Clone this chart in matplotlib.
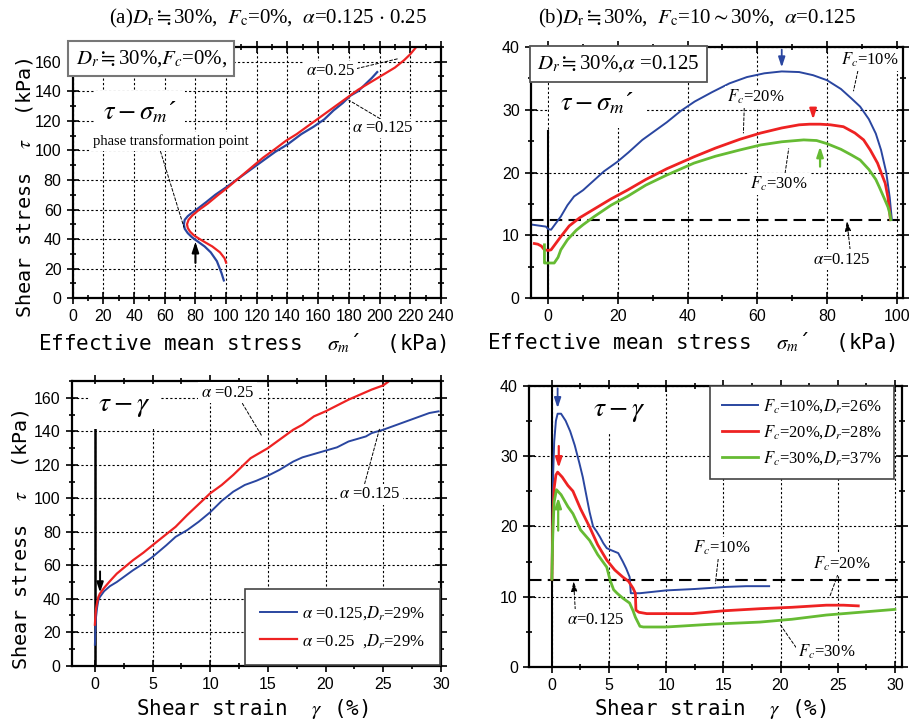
import matplotlib
matplotlib.use("Agg")
import matplotlib.pyplot as plt
from matplotlib.ticker import MultipleLocator

plt.rcParams['font.family'] = ['Liberation Serif', 'Noto Sans CJK JP', 'DejaVu Sans']
plt.rcParams['mathtext.fontset'] = 'stix'

BLUE = '#2a46a0'
RED = '#ee2222'
GREEN = '#66bb33'

# ---------------- data ----------------
# (a) tau - sigma_m'
a_blue_sig = [98.5, 97, 94, 90, 86, 82, 78, 75, 73, 72.5, 73, 75, 78, 82, 87, 93, 100, 108, 116, 124,
              132, 140, 149, 157, 164, 170, 176, 181, 186, 190, 195, 198.5]
a_blue_tau = [12, 17, 25, 31, 35, 38, 41, 44, 47, 50, 53, 55.5, 58, 61, 65, 70, 75, 81, 87, 93,
              99, 104, 111, 116, 121, 127, 132, 137, 140, 144, 149, 153]
a_red_sig = [100, 99, 96, 91, 86, 82, 79, 76.5, 75, 74.5, 75.5, 78, 82, 88, 95, 100, 108, 116, 124, 132,
             139, 146, 154, 162, 170, 178, 186, 194, 202, 210, 216, 220, 224]
a_red_tau = [24, 27, 31, 35, 38, 40.5, 42.5, 45, 47.5, 50, 53, 56, 59.5, 64, 70, 74, 81, 88, 95, 101,
             106.5, 111, 117, 123, 129, 135, 141, 146, 151, 156, 161, 165, 170]

# (b) tau - sigma_m'
b_blue_sig = [-4.5, -2, -0.7, 0, 0.8, 2, 3.6, 5.5, 7.4, 10, 13.2, 16, 19.8, 23, 27, 31, 34, 38, 42, 47,
              52, 57, 62, 67, 72, 76, 80, 84, 87, 89.5, 92, 94, 95.5, 97, 98, 98.6]
b_blue_tau = [11.7, 11.5, 11.4, 11, 10.9, 11.8, 13, 14.8, 16.2, 17.2, 18.8, 20.2, 21.7, 23.2, 25.2, 26.8,
              28, 29.8, 31.3, 32.8, 34.2, 35.2, 35.8, 36.1, 36, 35.5, 34.7, 33.3, 31.8, 30.5, 28.5, 26.2,
              23.6, 20, 16, 12.5]
b_red_sig = [-4, -3, -2, -1.1, 0, 0.8, 2, 3.6, 6, 9, 13.2, 18, 22.7, 28, 34, 41.8, 48, 55, 61, 67, 72,
             75, 78, 81, 84.7, 88, 90.5, 92.4, 94.5, 96, 96.7, 97.5, 97.9, 98.2]
b_red_tau = [8.7, 8.6, 8.3, 7.7, 7.6, 7.7, 8.6, 9.8, 11.5, 12.8, 14.2, 15.8, 17.2, 18.9, 20.6, 22.5, 23.9,
             25.3, 26.3, 27.1, 27.6, 27.7, 27.7, 27.6, 27.3, 26.3, 25.2, 23.6, 21.5, 19.3, 18.3, 16, 14, 12.5]
b_green_sig = [-1.1, -1.1, -0.7, 0, 1.7, 2.8, 3.6, 5.5, 8, 10, 13.2, 18, 22.7, 28, 34, 41.8, 48, 55, 61,
               67, 73.3, 77, 80, 84, 87, 89.5, 92, 94, 95, 96.5, 97.5, 98, 98.3]
b_green_tau = [8.5, 5.6, 5.6, 5.6, 5.6, 6.5, 7.7, 9.3, 10.8, 11.7, 13, 14.8, 16.2, 18, 19.6, 21.5, 22.6,
               23.6, 24.4, 24.9, 25.2, 25.1, 24.6, 23.7, 22.8, 22, 20.5, 18.9, 17.7, 15.8, 14.5, 13.5, 12.5]

# (a) tau - gamma
c_blue_gam = [0, 0.05, 0.1, 0.2, 0.3, 0.43, 0.8, 1.3, 1.9, 2.6, 3.3, 4.2, 5, 6.2, 7, 8, 9, 10, 11, 12,
              13, 14, 15, 16, 17.2, 18, 19, 20, 21, 22, 23, 23.5, 24, 25, 26, 27, 28, 29, 29.8]
c_blue_tau = [12.5, 22, 29, 35, 39, 41, 44.5, 47.5, 50, 53.5, 57, 61, 65, 72, 77, 81, 86, 91.7, 98.5, 104,
              108, 110.5, 113.5, 117, 122, 124.5, 126.5, 128.5, 130.5, 134, 136, 137, 139, 141, 143.5,
              146, 148.5, 151, 152]
c_red_gam = [0, 0.05, 0.1, 0.2, 0.3, 0.43, 0.8, 1.3, 1.9, 2.6, 3.3, 4.2, 5, 6, 7, 8, 9, 10, 11, 12, 12.6,
             13.5, 15, 16, 17.2, 18, 19, 20, 21, 22, 23, 24, 25, 25.4]
c_red_tau = [24.5, 30, 34, 38, 41, 43, 46.5, 50.5, 55, 59, 63, 67.5, 72, 77.5, 83, 90, 96.5, 103, 108,
             114, 118, 124, 130, 135, 141, 144, 149, 152, 155.5, 159, 162, 165, 167.5, 169.5]

# (b) tau - gamma
d_blue_gam = [0, 0.05, 0.1, 0.2, 0.35, 0.5, 0.8, 1.2, 1.6, 2.0, 2.4, 2.7, 3.0, 3.3, 3.6, 3.9, 4.2, 4.5,
              4.8, 5.2, 5.8, 6.2, 6.5, 6.8, 6.9, 7.7, 10, 12.5, 15.3, 17, 19]
d_blue_tau = [12.5, 20, 27, 32, 35, 36, 36, 35, 33.5, 31.5, 29, 27, 24.5, 22, 20, 19.3, 18.5, 17.6,
              16.9, 16.6, 16.2, 15, 14, 12.8, 10.5, 10.5, 10.9, 11.1, 11.4, 11.5, 11.5]
d_red_gam = [0, 0.05, 0.1, 0.2, 0.35, 0.5, 0.9, 1.4, 1.84, 2.5, 3.3, 4.0, 4.8, 5.5, 6.2, 6.7, 7.1, 7.3,
             7.35, 7.6, 8.3, 10, 12.3, 15, 18.2, 21, 24, 25.5, 26.8]
d_red_tau = [12.5, 18, 22, 25.5, 27.3, 27.7, 27, 25.8, 25, 22.5, 19.9, 17.4, 15.2, 13.8, 12.8, 12.2,
             11.2, 10.5, 8.1, 7.8, 7.6, 7.6, 7.6, 8.0, 8.3, 8.5, 8.8, 8.8, 8.7]
d_green_gam = [0, 0.05, 0.1, 0.2, 0.4, 0.8, 1.4, 1.84, 2.5, 3.3, 4.0, 4.8, 5.1, 5.4, 5.7, 6.2, 6.8, 7.1,
               7.3, 7.7, 8.0, 10, 14, 18.2, 21, 24, 27, 30]
d_green_tau = [12.5, 17, 20, 23.5, 25.2, 24.5, 22.8, 21.8, 19.5, 18, 16, 14.2, 12.3, 11, 10.5, 9.8, 9.1,
               8.0, 7.1, 5.8, 5.7, 5.7, 6.1, 6.4, 6.8, 7.4, 7.8, 8.2]

alpha_line = 12.4   # tau corresponding to alpha = 0.125

# ---------------- figure ----------------
fig = plt.figure(figsize=(9.09, 7.22), dpi=100)

axA = fig.add_axes([0.080, 0.587, 0.405, 0.348])
axB = fig.add_axes([0.584, 0.587, 0.409, 0.348])
axC = fig.add_axes([0.079, 0.078, 0.406, 0.394])
axD = fig.add_axes([0.582, 0.076, 0.410, 0.390])

MONO = 'DejaVu Sans Mono'


def style(ax, xmaj, xmin, ymaj, ymin):
    ax.xaxis.set_major_locator(MultipleLocator(xmaj))
    ax.xaxis.set_minor_locator(MultipleLocator(xmin))
    ax.yaxis.set_major_locator(MultipleLocator(ymaj))
    ax.yaxis.set_minor_locator(MultipleLocator(ymin))
    ax.tick_params(which='both', direction='inout', top=True, right=True, width=1.2)
    ax.tick_params(which='major', length=9)
    ax.tick_params(which='minor', length=5)
    for s in ax.spines.values():
        s.set_linewidth(1.6)
    for lab in ax.get_xticklabels() + ax.get_yticklabels():
        lab.set_fontfamily('Liberation Sans')
        lab.set_fontsize(11.5)
    ax.grid(True, which='major', color='black', linestyle=(0, (2, 2)), linewidth=0.8)
    ax.set_axisbelow(True)


lead = dict(arrowstyle='-', color='black', lw=0.7, linestyle=(0, (3, 2)))
arrow_kw = '-|>,head_length=0.6,head_width=0.2'

# ---- (a) top-left ----
axA.plot(a_blue_sig, a_blue_tau, color=BLUE, lw=1.6)
axA.plot(a_red_sig, a_red_tau, color=RED, lw=1.6)
axA.set_xlim(0, 240)
axA.set_ylim(0, 170)
style(axA, 20, 10, 20, 10)
axA.text(2, 162, r"$D_r$$\fallingdotseq$30%,$F_c$=0%,", fontsize=15, va='center', ha='left',
         bbox=dict(boxstyle='square,pad=0.35', fc='white', ec='#777777', lw=1.5), zorder=5)
axA.text(20, 126, r"$\tau-\sigma_{m}$´", fontsize=19, va='center', ha='left',
         bbox=dict(boxstyle='square,pad=0.3', fc='white', ec='none'), zorder=4)
axA.annotate("phase transformation point", xy=(72.5, 48), xytext=(13, 106),
             fontsize=10.5, va='center', ha='left', zorder=6,
             bbox=dict(boxstyle='square,pad=0.2', fc='white', ec='none'),
             arrowprops=dict(arrowstyle='-', color='black', lw=0.7, linestyle=(0, (3, 2)),
                             shrinkA=0, shrinkB=0, relpos=(0.43, 0)))
axA.annotate("", xy=(80, 40), xytext=(80, 22),
             arrowprops=dict(arrowstyle=arrow_kw, color='black', lw=1.5))
axA.annotate(r"$\alpha$=0.25", xy=(212, 162), xytext=(152, 154), fontsize=12, va='center', ha='left',
             bbox=dict(boxstyle='square,pad=0.1', fc='white', ec='none'),
             arrowprops=dict(lead, shrinkA=0, shrinkB=0, relpos=(1, 0.6)))
axA.annotate(r"$\alpha$ =0.125", xy=(180, 134), xytext=(182, 115), fontsize=12, va='center', ha='left',
             bbox=dict(boxstyle='square,pad=0.1', fc='white', ec='none'),
             arrowprops=dict(lead, shrinkA=0, shrinkB=0, relpos=(0.5, 1)))

# ---- (b) top-right ----
axB.axvline(0, ymin=0, ymax=26.6 / 40, color='black', lw=1.5)
axB.axhline(alpha_line, color='black', lw=1.5, linestyle=(0, (6, 3)))
axB.plot(b_blue_sig, b_blue_tau, color=BLUE, lw=1.4)
axB.plot(b_red_sig, b_red_tau, color=RED, lw=2.0)
axB.plot(b_green_sig, b_green_tau, color=GREEN, lw=2.0)
axB.set_xlim(-5, 101.7)
axB.set_ylim(0, 40)
style(axB, 20, 10, 10, 5)
axB.text(-3.2, 37.3, r"$D_r$$\fallingdotseq$30%,$\alpha$ =0.125", fontsize=15, va='center', ha='left',
         bbox=dict(boxstyle='square,pad=0.35', fc='white', ec='#555555', lw=1.3), zorder=5)
axB.text(3.5, 31, r"$\tau-\sigma_{m}$´", fontsize=19, va='center', ha='left',
         bbox=dict(boxstyle='square,pad=0.45', fc='white', ec='none'), zorder=4)
axB.annotate("", xy=(67, 36.3), xytext=(67, 40),
             arrowprops=dict(arrowstyle=arrow_kw, color=BLUE, lw=1.3))
axB.annotate("", xy=(76, 28), xytext=(76, 30),
             arrowprops=dict(arrowstyle=arrow_kw, color=RED, lw=1.6))
axB.annotate("", xy=(78, 24.6), xytext=(78, 20.5),
             arrowprops=dict(arrowstyle=arrow_kw, color=GREEN, lw=1.6))
axB.annotate(r"$F_c$=10%", xy=(87.6, 33), xytext=(84, 37.9), fontsize=12, va='center', ha='left',
             bbox=dict(boxstyle='square,pad=0.1', fc='white', ec='none'),
             arrowprops=dict(lead, shrinkA=0, shrinkB=0, relpos=(0.3, 0)))
axB.annotate(r"$F_c$=20%", xy=(56, 26.3), xytext=(51.3, 32), fontsize=12, va='center', ha='left',
             bbox=dict(boxstyle='square,pad=0.1', fc='white', ec='none'),
             arrowprops=dict(lead, shrinkA=0, shrinkB=0, relpos=(0.3, 0)))
axB.annotate(r"$F_c$=30%", xy=(69, 23.8), xytext=(58, 18.2), fontsize=12, va='center', ha='left',
             bbox=dict(boxstyle='square,pad=0.1', fc='white', ec='none'),
             arrowprops=dict(lead, shrinkA=0, shrinkB=0, relpos=(0.6, 1)))
axB.annotate(r"$\alpha$=0.125", xy=(85.7, 12.3), xytext=(76, 6.1), fontsize=12, va='center', ha='left',
             bbox=dict(boxstyle='square,pad=0.15', fc='white', ec='none'),
             arrowprops=dict(arrowstyle='-|>,head_length=0.5,head_width=0.15', color='black', lw=0.7,
                             linestyle=(0, (3, 2)), shrinkA=0, shrinkB=0, relpos=(0.65, 1)))

# ---- (c) bottom-left ----
axC.axvline(0, ymin=0, ymax=145 / 170, color='black', lw=1.8)
axC.plot(c_blue_gam, c_blue_tau, color=BLUE, lw=1.4, label=r"$\alpha$ =0.125,$D_r$=29%")
axC.plot(c_red_gam, c_red_tau, color=RED, lw=1.6, label=r"$\alpha$ =0.25  ,$D_r$=29%")
axC.set_xlim(-2, 30)
axC.set_ylim(0, 170)
style(axC, 5, 2.5, 20, 10)
axC.text(0.3, 155, r"$\tau-\gamma$", fontsize=20, va='center', ha='left',
         bbox=dict(boxstyle='square,pad=0.35', fc='white', ec='none'), zorder=4)
axC.annotate("", xy=(0.45, 42), xytext=(0.45, 58),
             arrowprops=dict(arrowstyle=arrow_kw, color='black', lw=1.4))
axC.annotate(r"$\alpha$ =0.25", xy=(14.5, 137), xytext=(9.2, 163), fontsize=12, va='center', ha='left',
             bbox=dict(boxstyle='square,pad=0.15', fc='white', ec='none'),
             arrowprops=dict(lead, shrinkA=0, shrinkB=0, relpos=(0.75, 0)))
axC.annotate(r"$\alpha$ =0.125", xy=(24.7, 142), xytext=(21.2, 102.5), fontsize=12, va='center',
             ha='left', bbox=dict(boxstyle='square,pad=0.15', fc='white', ec='none'),
             arrowprops=dict(lead, shrinkA=0, shrinkB=0, relpos=(0.4, 1)))
legC = axC.legend(loc='lower right', bbox_to_anchor=(0.997, 0.004), fontsize=12, frameon=True,
                  fancybox=False, edgecolor='#444444', framealpha=1, borderaxespad=0,
                  handlelength=2.2, handletextpad=0.3, borderpad=0.9, labelspacing=0.6)
legC.get_frame().set_linewidth(1.2)

# ---- (d) bottom-right ----
axD.axvline(0, color='black', lw=1.5)
axD.axhline(alpha_line, color='black', lw=1.5, linestyle=(0, (6, 3)))
axD.plot(d_blue_gam, d_blue_tau, color=BLUE, lw=1.4, label=r"$F_c$=10%,$D_r$=26%")
axD.plot(d_red_gam, d_red_tau, color=RED, lw=2.0, label=r"$F_c$=20%,$D_r$=28%")
axD.plot(d_green_gam, d_green_tau, color=GREEN, lw=2.0, label=r"$F_c$=30%,$D_r$=37%")
axD.set_xlim(-2, 30.6)
axD.set_ylim(0, 40)
style(axD, 5, 2.5, 10, 5)
axD.text(3.6, 36.3, r"$\tau-\gamma$", fontsize=20, va='center', ha='left',
         bbox=dict(boxstyle='square,pad=0.35', fc='white', ec='none'), zorder=4)
axD.annotate("", xy=(0.5, 36.4), xytext=(0.5, 40),
             arrowprops=dict(arrowstyle=arrow_kw, color=BLUE, lw=1.3))
axD.annotate("", xy=(0.6, 27.9), xytext=(0.6, 31.8),
             arrowprops=dict(arrowstyle=arrow_kw, color=RED, lw=1.6))
axD.annotate("", xy=(0.55, 24.5), xytext=(0.55, 19),
             arrowprops=dict(arrowstyle=arrow_kw, color=GREEN, lw=1.6))
axD.annotate(r"$\alpha$=0.125", xy=(1.9, 12.2), xytext=(1.3, 6.7), fontsize=12, va='center', ha='left',
             bbox=dict(boxstyle='square,pad=0.15', fc='white', ec='none'),
             arrowprops=dict(arrowstyle='-|>,head_length=0.5,head_width=0.15', color='black', lw=0.7,
                             linestyle=(0, (3, 2)), shrinkA=0, shrinkB=0, relpos=(0.15, 1)))
axD.annotate(r"$F_c$=10%", xy=(14.3, 11.9), xytext=(12.3, 16.9), fontsize=12, va='center', ha='left',
             bbox=dict(boxstyle='square,pad=0.1', fc='white', ec='none'),
             arrowprops=dict(lead, shrinkA=0, shrinkB=0, relpos=(0.45, 0)))
axD.annotate(r"$F_c$=20%", xy=(24.3, 10), xytext=(22.8, 14.7), fontsize=12, va='center', ha='left',
             bbox=dict(boxstyle='square,pad=0.1', fc='white', ec='none'),
             arrowprops=dict(lead, shrinkA=0, shrinkB=0, relpos=(0.45, 0)))
axD.annotate(r"$F_c$=30%", xy=(19.9, 6.2), xytext=(21.5, 2.2), fontsize=12, va='center', ha='left',
             bbox=dict(boxstyle='square,pad=0.1', fc='white', ec='none'),
             arrowprops=dict(lead, shrinkA=0, shrinkB=0, relpos=(0, 0.6)))
legD = axD.legend(loc='upper right', bbox_to_anchor=(0.979, 1.0), fontsize=12, frameon=True,
                  fancybox=False, edgecolor='#444444', framealpha=1, borderaxespad=0,
                  handlelength=2.2, handletextpad=0.3, borderpad=0.7, labelspacing=0.5)
legD.get_frame().set_linewidth(1.2)

# ---- axis labels ----
xl_sig = r"Effective mean stress  $\sigma_{m}$´  (kPa)"
fig.text(243 / 909, 1 - 350 / 722, xl_sig, family=MONO, fontsize=15, ha='center', va='baseline')
fig.text(692 / 909, 1 - 349 / 722, xl_sig, family=MONO, fontsize=15, ha='center', va='baseline')
xl_gam = r"Shear strain  $\gamma$ (%)"
fig.text(252 / 909, 1 - 715 / 722, xl_gam, family=MONO, fontsize=15, ha='center', va='baseline')
fig.text(710 / 909, 1 - 715 / 722, xl_gam, family=MONO, fontsize=15, ha='center', va='baseline')
yl = r"Shear stress  $\tau$  (kPa)"
fig.text(25 / 909, 1 - 188 / 722, yl, family=MONO, fontsize=14.5, ha='center', va='center', rotation=90)
fig.text(21 / 909, 1 - 540 / 722, yl, family=MONO, fontsize=14.5, ha='center', va='center', rotation=90)

# ---- titles ----
fig.text(268 / 909, 1 - 18 / 722,
         r"(a)$D_{\rm r}$$\fallingdotseq$30%,  $F_{\rm c}$=0%,  $\alpha$=0.125 $\cdot$ 0.25",
         fontsize=15, ha='center', va='center')
fig.text(697 / 909, 1 - 18 / 722,
         r"(b)$D_{\rm r}$$\fallingdotseq$30%,  $F_{\rm c}$=10$\sim$30%,  $\alpha$=0.125",
         fontsize=15, ha='center', va='center')

fig.savefig("out.png", dpi=100)
